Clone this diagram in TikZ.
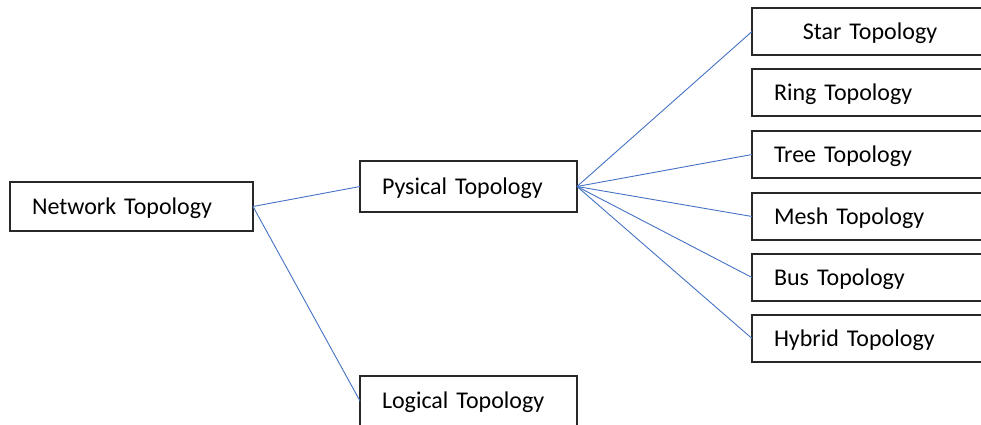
\documentclass[tikz,border=0pt]{standalone}
\usepackage{fontspec}
\setmainfont{Carlito}
\usetikzlibrary{positioning}
\definecolor{ln}{RGB}{68,114,196}
\definecolor{bd}{RGB}{40,40,40}

\begin{document}
\begin{tikzpicture}[
    x=1pt, y=-1pt,
    font=\fontsize{24}{28}\selectfont,
    a/.style={
        line width=0.9pt,
        color=ln,
    },
    b/.style={
        draw=bd, line width=1.2pt, anchor=north west, outer sep=0pt,
        inner xsep=22pt, align=left, text depth=0.12em
    },
    m/.style={
        b, minimum width=243pt, minimum height=49pt, text width=199pt
    },
    s/.style={
        b, minimum width=217pt, minimum height=51pt, text width=173pt
    },
    r/.style={
        b, minimum width=236pt, minimum height=47pt, text width=192pt
    }
]
    \useasboundingbox (0,0) rectangle (981,425);

    \node [m] (net)  at ( 10, 182) {Network Topology};
    \node [s] (phy)  at (360, 161) {Pysical Topology};
    \node [s,minimum height=50pt] (log)  at (360, 376) {Logical Topology};

    \node [r,align=center] (star) at (752,   8) {Star Topology};
    \node [r] (ring) at (752,  69) {Ring Topology};
    \node [r] (tree) at (752, 131) {Tree Topology};
    \node [r] (mesh) at (752, 193) {Mesh Topology};
    \node [r] (bus)  at (752, 254) {Bus Topology};
    \node [r] (hyb)  at (752, 315) {Hybrid Topology};

    \draw (net.east) -- (phy.west) [a];
    \draw (net.east) -- (log.west) [a];

    \draw (phy.east) -- (star.west) [a];
    \draw (phy.east) -- (tree.west) [a];
    \draw (phy.east) -- (mesh.west) [a];
    \draw (phy.east) -- (bus.west)  [a];
    \draw (phy.east) -- (hyb.west)  [a];

\end{tikzpicture}
\end{document}
